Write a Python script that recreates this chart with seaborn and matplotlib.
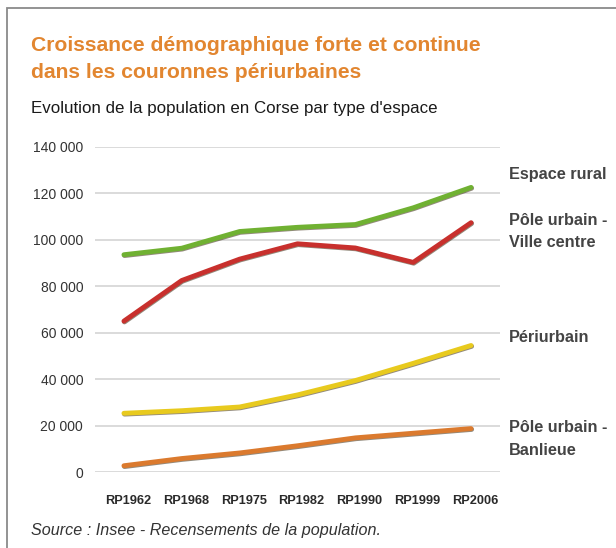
import matplotlib
matplotlib.use("Agg")
import matplotlib.pyplot as plt
import matplotlib.patheffects as pe
import matplotlib.transforms as mtransforms
from matplotlib.patches import Rectangle
import pandas as pd
import seaborn as sns

# Census years (x categories)
recensements = ["RP1962", "RP1968", "RP1975", "RP1982", "RP1990", "RP1999", "RP2006"]

# Population by type of area
espace_rural = [93600, 96400, 103600, 105400, 106600, 113800, 122600]
ville_centre = [65000, 82500, 91700, 98300, 96500, 90300, 107400]
periurbain = [25300, 26400, 28000, 33200, 39400, 46800, 54500]
banlieue = [2700, 5800, 8200, 11300, 14700, 16700, 18700]

y_ticks = [0, 20000, 40000, 60000, 80000, 100000, 120000, 140000]
y_tick_labels = ["0", "20 000", "40 000", "60 000", "80 000", "100 000", "120 000", "140 000"]

series_names = ["Espace rural", "Pôle urbain -\nVille centre", "Périurbain", "Pôle urbain -\nBanlieue"]
series_values = [espace_rural, ville_centre, periurbain, banlieue]
series_colors = ["#70B132", "#C8302D", "#E8CA1E", "#DB7A2E"]

df = pd.DataFrame(
    [(name, rp, v) for name, vals in zip(series_names, series_values)
     for rp, v in zip(recensements, vals)],
    columns=["espace", "recensement", "population"],
)

sns.set_theme(style="white")
plt.rcParams["font.family"] = ["Liberation Sans", "DejaVu Sans"]

fig = plt.figure(figsize=(6.16, 5.48), dpi=100)
fig.patch.set_facecolor("white")

# Frame around the panel (open on the right and bottom)
fig.patches.append(Rectangle((7 / 616, -0.05), 1.2, (548 - 8) / 548 + 0.05,
                             transform=fig.transFigure, fill=False,
                             edgecolor="#8a8a8a", linewidth=1.3))

ax = fig.add_axes([95 / 616, (548 - 472) / 548, 405 / 616, (472 - 147) / 548])

sns.lineplot(data=df, x="recensement", y="population", hue="espace",
             hue_order=series_names, palette=series_colors, linewidth=3.5,
             sort=False, legend=False, ax=ax)

for line in ax.get_lines():
    line.set_clip_on(False)
    line.set_solid_capstyle("round")
    line.set_solid_joinstyle("round")
    line.set_path_effects([
        pe.SimpleLineShadow(offset=(0.4, -0.6), shadow_color="#3a2a10", alpha=0.55),
        pe.Normal(),
    ])
    line.set_zorder(3)

ax.set_xlim(-0.5, 6.5)
ax.set_ylim(0, 140000)
ax.set_yticks(y_ticks)
ax.set_yticklabels(y_tick_labels)
ax.set_xticks(range(len(recensements)))
ax.set_xticklabels(recensements)
ax.set_xlabel("")
ax.set_ylabel("")
for s in ax.spines.values():
    s.set_visible(False)
ax.grid(axis="y", color="#dadada", linewidth=1.4)
ax.set_axisbelow(True)
ax.tick_params(axis="y", length=0, pad=8.5, labelsize=10, labelcolor="#333333")
ax.tick_params(axis="x", length=0, pad=16.5, labelsize=9.2, labelcolor="#2a2a2a")
x_shift = mtransforms.ScaledTranslation(4 / 100, 0, fig.dpi_scale_trans)
for lab in ax.get_xticklabels():
    lab.set_fontweight("bold")
    lab.set_transform(lab.get_transform() + x_shift)

# Series labels on the right
label_y = [128000, 103700, 57800, 14200]
label_tr = mtransforms.blended_transform_factory(fig.transFigure, ax.transData)
for name, y in zip(series_names, label_y):
    ax.text(509 / 616, y, name, transform=label_tr,
            ha="left", va="center", fontsize=11.7, fontweight="bold", color="#444444",
            linespacing=1.6)

fig.text(31 / 616, 1 - 59 / 548, "Croissance démographique forte et continue\ndans les couronnes périurbaines",
         ha="left", va="center", fontsize=15.2, fontweight="bold", color="#E28630",
         linespacing=1.5)
fig.text(31 / 616, 1 - 109 / 548, "Evolution de la population en Corse par type d'espace",
         ha="left", va="center", fontsize=12.2, color="#1a1a1a")
fig.text(31 / 616, 1 - 530 / 548, "Source : Insee - Recensements de la population.",
         ha="left", va="center", fontsize=11.6, style="italic", color="#333333")

fig.savefig("out.png", dpi=100)
